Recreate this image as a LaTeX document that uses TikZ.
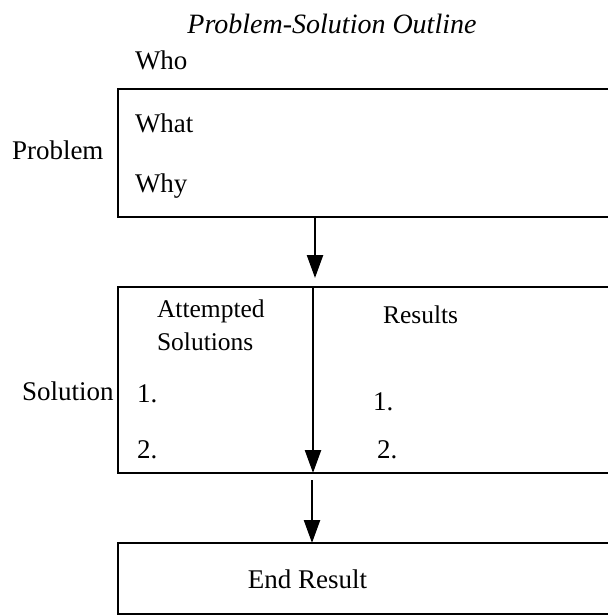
\documentclass[tikz,border=0pt]{standalone}
\usepackage{fontspec}
\setmainfont{Liberation Serif}
\usetikzlibrary{arrows.meta}

\begin{document}
\begin{tikzpicture}[x=1bp,y=-1bp,
  box/.style={draw=black, line width=2.6bp, rectangle, inner sep=0pt, outer sep=0pt,
              anchor=north west, minimum width=540bp},
  lab/.style={inner sep=0pt, outer sep=0pt, anchor=base west,
              font=\fontsize{27bp}{32bp}\selectfont},
  sublab/.style={lab, font=\fontsize{25.5bp}{33bp}\selectfont},
  arr/.style={line width=2.4bp, -{Triangle[length=23bp,width=16bp]}}]

  \useasboundingbox (0,0) rectangle (608,616);
  \clip (0,0) rectangle (608,616);

  % heading
  \node[lab, anchor=base, font=\fontsize{28bp}{32bp}\selectfont\itshape] (title) at (332,34)
    {Problem-Solution Outline};

  % problem block
  \node[box, minimum height=128bp] (prob) at (118,89) {};
  \node[lab] (who) at (135,70) {Who};
  \node[lab] (what) at (135,133) {What};
  \node[lab] (why) at (135,192) {Why};
  \node[lab] (problab) at (12,160) {Problem};

  % solution block
  \node[box, minimum height=186bp] (sol) at (118,287) {};
  \node[sublab, align=left] (att) at (157,350) {Attempted\\Solutions};
  \node[sublab] (res) at (383,323) {Results};
  \node[lab] (sollab) at (22,400) {Solution};
  \node[lab] (a1) at (137,402) {1.};
  \node[lab] (a2) at (137,458) {2.};
  \node[lab] (r1) at (373,410) {1.};
  \node[lab] (r2) at (377,458) {2.};

  % end block
  \node[box, minimum height=71bp] (endbox) at (118,543) {};
  \node[lab, anchor=base] (endlab) at (307.5,588) {End Result};

  % connectors
  \coordinate (c1) at (315,278);
  \coordinate (cd) at (313,0);
  \coordinate (c3) at (312,480);
  \draw[arr] (prob.south -| c1) -- (c1);
  \draw[arr] (sol.north -| cd) -- (sol.south -| cd);
  \draw[arr] (c3) -- (endbox.north -| c3);
\end{tikzpicture}
\end{document}
